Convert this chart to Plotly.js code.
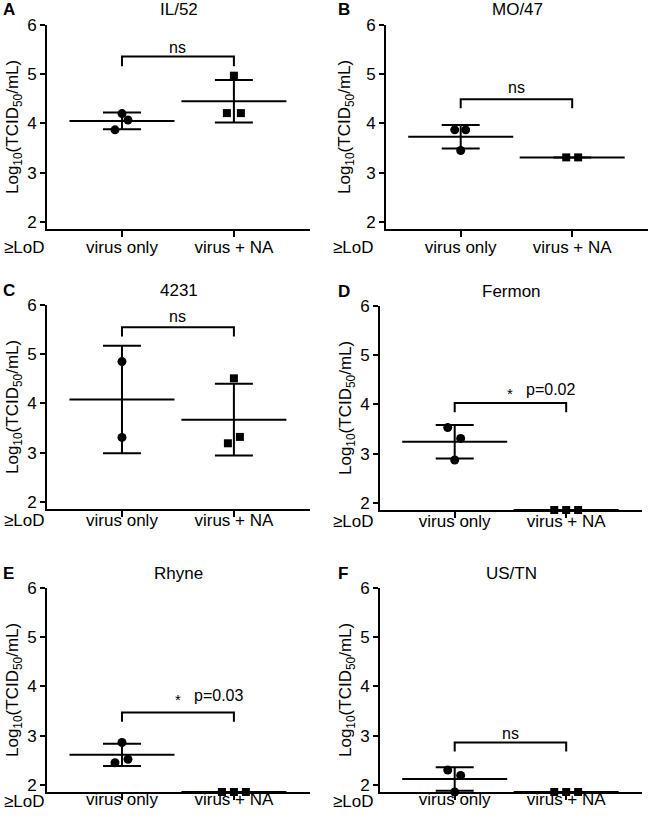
<!DOCTYPE html>
<html>
<head>
<meta charset="utf-8">
<script src="https://cdn.plot.ly/plotly-3.0.1.min.js"></script>
<style>html,body{margin:0;padding:0;background:#fff;}#chart{width:650px;height:819px;}</style>
</head>
<body>
<div id="chart"></div>
<script>
// ---------- data ----------
const categories = ['virus only', 'virus + NA'];
const panelLetters = ['A', 'B', 'C', 'D', 'E', 'F'];
const panelTitles = ['IL/52', 'MO/47', '4231', 'Fermon', 'Rhyne', 'US/TN'];
const LOD = 1.855;
const yTicks = [2, 3, 4, 5, 6];

const virusOnlyA = [4.20, 4.07, 3.87];
const virusNA_A = [4.97, 4.21, 4.21];
const virusOnlyB = [3.87, 3.87, 3.45];
const virusNA_B = [3.31, 3.31];
const virusOnlyC = [4.85, 3.31];
const virusNA_C = [4.51, 3.32, 3.19];
const virusOnlyD = [3.53, 3.31, 2.87];
const virusNA_D = [LOD, LOD, LOD];
const virusOnlyE = [2.86, 2.52, 2.45];
const virusNA_E = [LOD, LOD, LOD];
const virusOnlyF = [2.30, 2.19, LOD];
const virusNA_F = [LOD, LOD, LOD];

const meanA = [4.05, 4.45], sdA = [0.17, 0.43];
const meanB = [3.73, 3.31], sdB = [0.24, 0];
const meanC = [4.08, 3.67], sdC = [1.09, 0.73];
const meanD = [3.24, LOD], sdD = [0.34, 0];
const meanE = [2.61, LOD], sdE = [0.225, 0];
const meanF = [2.12, LOD], sdF = [0.24, 0];

const bracketTop = [5.36, 4.49, 5.55, 4.03, 3.47, 2.86];
const bracketLeg = [5.16, 4.31, 5.36, 3.84, 3.28, 2.68];
const bracketText = ['ns', 'ns', 'ns', 'p=0.02', 'p=0.03', 'ns'];
const bracketStar = [false, false, false, true, true, false];
const bracketTextY = [5.55, 4.73, 5.76, 4.31, 3.82, 3.05];

// ---------- layout helpers (pixel geometry) ----------
const W = 650, H = 819;
const PX_PER_CAT = 112;
// horizontal jitter of the dots, in px
const jitOnly = [[0, 6, -7], [-6, 5, 0], [0, 0], [-7, 6, 0], [0, 6, -7], [-7, 6, 0]];
const jitNA = [[0, -7, 7], [-6, 6], [0, 6, -6], [-12, 0, 12], [-12, 0, 12], [-12, 0, 12]];
// plot boxes: [left, right, top, bottom] px
const boxes = [
  [47, 310, 25, 229], [386, 648, 25, 229],
  [47, 310, 305, 509], [380, 642, 306, 510],
  [47, 310, 588, 792], [380, 642, 588, 792]
];
const labelStandoff = [-4, -4, -11, -11, -15, -15];
const lodLabelGap = [18, 18, 11, 11, 9, 9];
const yTitleGap = [33, 40, 33, 33, 33, 33];

const onlyData = [virusOnlyA, virusOnlyB, virusOnlyC, virusOnlyD, virusOnlyE, virusOnlyF];
const naData = [virusNA_A, virusNA_B, virusNA_C, virusNA_D, virusNA_E, virusNA_F];
const means = [meanA, meanB, meanC, meanD, meanE, meanF];
const sds = [sdA, sdB, sdC, sdD, sdE, sdF];

const FONT = 'Liberation Sans, Arial, Helvetica, sans-serif';
function f(size) { return {family: FONT, size: size, color: '#000'}; }
const traces = [];
const layout = {
  width: W, height: H,
  margin: {l: 0, r: 0, t: 0, b: 0},
  paper_bgcolor: '#fff', plot_bgcolor: '#fff',
  showlegend: false,
  font: f(16),
  annotations: []
};

function px(x) { return x / W; }
function py(y) { return 1 - y / H; }

for (let i = 0; i < 6; i++) {
  const n = i === 0 ? '' : String(i + 1);
  const xa = 'x' + n, ya = 'y' + n;
  const [l, r, t, b] = boxes[i];
  layout['xaxis' + n] = {
    domain: [px(l), px(r)], anchor: ya,
    range: [-0.67, 1.68], tickvals: [0, 1], ticktext: categories,
    showline: true, linewidth: 2, linecolor: '#000',
    ticks: 'outside', ticklen: 6, tickwidth: 2, tickcolor: '#000',
    ticklabelstandoff: labelStandoff[i],
    showgrid: false, zeroline: false, fixedrange: true,
    tickfont: f(17)
  };
  layout['yaxis' + n] = {
    domain: [py(b), py(t)], anchor: xa,
    range: [1.855, 6], tickvals: yTicks,
    showline: true, linewidth: 2, linecolor: '#000',
    ticks: 'outside', ticklen: 5, tickwidth: 2, tickcolor: '#000',
    showgrid: false, zeroline: false, fixedrange: true,
    tickfont: f(17)
  };

  // mean line + SD error bars
  traces.push({
    type: 'scatter', mode: 'markers', xaxis: xa, yaxis: ya,
    x: [0, 1], y: means[i], cliponaxis: false,
    marker: {symbol: 'line-ew', size: 75, color: '#000', line: {width: 2, color: '#000'}},
    error_y: {type: 'data', array: sds[i], visible: true, thickness: 2, width: 19, color: '#000'}
  });
  // individual points
  traces.push({
    type: 'scatter', mode: 'markers', xaxis: xa, yaxis: ya, cliponaxis: false,
    x: onlyData[i].map((v, k) => 0 + jitOnly[i][k] / PX_PER_CAT), y: onlyData[i],
    marker: {symbol: 'circle', size: 9, color: '#000'}
  });
  traces.push({
    type: 'scatter', mode: 'markers', xaxis: xa, yaxis: ya, cliponaxis: false,
    x: naData[i].map((v, k) => 1 + jitNA[i][k] / PX_PER_CAT), y: naData[i],
    marker: {symbol: 'square', size: 8, color: '#000'}
  });
  // significance bracket
  traces.push({
    type: 'scatter', mode: 'lines', xaxis: xa, yaxis: ya, cliponaxis: false,
    x: [0, 0, 1, 1], y: [bracketLeg[i], bracketTop[i], bracketTop[i], bracketLeg[i]],
    line: {color: '#000', width: 2}
  });
  if (bracketStar[i]) {
    layout.annotations.push({xref: xa, yref: ya, x: 0.5, y: bracketTextY[i], text: '*',
      showarrow: false, font: f(15), yshift: -4});
    layout.annotations.push({xref: xa, yref: ya, x: 0.86, y: bracketTextY[i], text: bracketText[i],
      showarrow: false, font: f(16)});
  } else {
    layout.annotations.push({xref: xa, yref: ya, x: 0.5, y: bracketTextY[i], text: bracketText[i],
      showarrow: false, font: f(16)});
  }

  // panel title
  layout.annotations.push({xref: 'paper', yref: 'paper', x: px((l + r) / 2), y: py(t - 15),
    text: panelTitles[i], showarrow: false, font: f(17), xanchor: 'center', yanchor: 'middle'});
  // panel letter
  const col = i % 2;
  layout.annotations.push({xref: 'paper', yref: 'paper', x: px(col === 0 ? 1 : 336), y: py(t - 15),
    text: '<b>' + panelLetters[i] + '</b>', showarrow: false, font: f(17),
    xanchor: 'left', yanchor: 'middle'});
  // y-axis title
  layout.annotations.push({xref: 'paper', yref: 'paper', x: px(l - yTitleGap[i]), y: py((t + b) / 2),
    text: 'Log<sub>10</sub>(TCID<sub>50</sub>/mL)', showarrow: false, textangle: -90,
    font: f(17), xanchor: 'center', yanchor: 'middle'});
  // LoD label
  layout.annotations.push({xref: 'paper', yref: 'paper', x: px(col === 0 ? 2 : 331), y: py(b + lodLabelGap[i]),
    text: '≥LoD', showarrow: false, font: f(17), xanchor: 'left', yanchor: 'middle'});
}

Plotly.newPlot('chart', traces, layout, {displayModeBar: false, staticPlot: true});
</script>
</body>
</html>
